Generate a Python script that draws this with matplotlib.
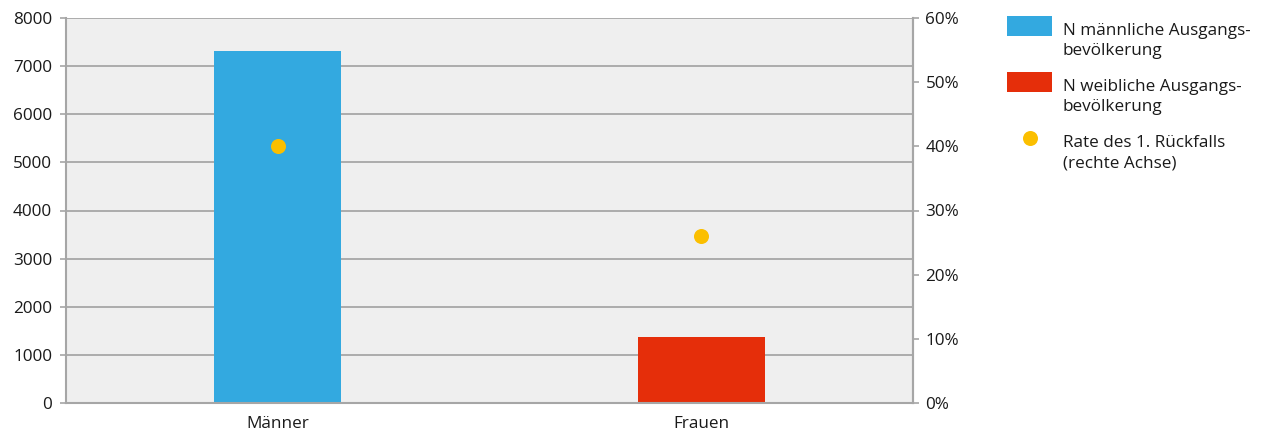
import matplotlib

matplotlib.use("Agg")
import matplotlib.pyplot as plt
from matplotlib.lines import Line2D
from matplotlib.patches import Rectangle
from matplotlib.ticker import PercentFormatter

plt.rcParams["font.family"] = ["Open Sans", "DejaVu Sans"]

categories = ["Männer", "Frauen"]
population = [7310, 1375]
relapse_rate = [40.0, 26.0]
left_ticks = [0, 1000, 2000, 3000, 4000, 5000, 6000, 7000, 8000]
right_ticks = [0, 10, 20, 30, 40, 50, 60]
legend_labels = [
    "N männliche Ausgangs-\nbevölkerung",
    "N weibliche Ausgangs-\nbevölkerung",
    "Rate des 1. Rückfalls\n(rechte Achse)",
]

BLUE = "#33a9e0"
RED = "#e52e0a"
GOLD = "#fbbf00"
GRID = "#a6a6a6"
TEXT = "#1a1a1a"
FS = 12.3

W, H = 1266, 441
fig = plt.figure(figsize=(W / 100, H / 100), dpi=100)
ax = fig.add_axes([66 / W, 38 / H, 847 / W, 385 / H])
ax.set_facecolor("#efefef")

x = range(len(categories))
ax.bar(x, population, width=0.3, color=[BLUE, RED], zorder=2)
ax.set_xlim(-0.5, 1.5)
ax.set_ylim(0, 8000)
ax.set_yticks(left_ticks)
ax.set_xticks(list(x))
ax.set_xticklabels(categories)
ax.yaxis.grid(True, color=GRID, lw=1.3, zorder=1)
ax.set_axisbelow(True)
for side in ("left", "bottom", "right", "top"):
    ax.spines[side].set_color(GRID)
    ax.spines[side].set_linewidth(1.5)
ax.spines["top"].set_visible(False)
ax.tick_params(axis="y", colors=GRID, labelcolor=TEXT, labelsize=FS,
               length=4, width=1.2, pad=6)
ax.tick_params(axis="x", length=0, labelcolor=TEXT, labelsize=FS, pad=9)

ax2 = ax.twinx()
ax2.scatter(x, relapse_rate, s=117, color=GOLD, zorder=3, linewidths=0)
ax2.set_ylim(0, 60)
ax2.set_yticks(right_ticks)
ax2.yaxis.set_major_formatter(PercentFormatter(decimals=0))
for side in ("left", "bottom", "right", "top"):
    ax2.spines[side].set_visible(False)
ax2.spines["right"].set_visible(True)
ax2.spines["right"].set_color(GRID)
ax2.spines["right"].set_linewidth(1.5)
ax2.tick_params(axis="y", colors=GRID, labelcolor=TEXT, labelsize=FS,
                length=4, width=1.2, pad=5)

# legend drawn by hand: swatch at the top of each two-line label
def fx(px):
    return px / W


def fy(py):
    return 1 - py / H


swatches = [BLUE, RED, None]
for i, (label, col) in enumerate(zip(legend_labels, swatches)):
    top = 16 + 56 * i
    if col is not None:
        fig.add_artist(Rectangle((fx(1007), fy(top + 20)), 45 / W, 20 / H,
                                 transform=fig.transFigure, facecolor=col,
                                 edgecolor="none"))
    else:
        fig.add_artist(Line2D([fx(1030)], [fy(top + 10)], ls="none",
                              marker="o", markersize=10.8,
                              markerfacecolor=GOLD, markeredgewidth=0,
                              transform=fig.transFigure))
    fig.text(fx(1063), fy(top + 39), label, fontsize=FS, color=TEXT,
             ha="left", va="baseline", linespacing=1.31)

fig.savefig("out.png", dpi=100)
